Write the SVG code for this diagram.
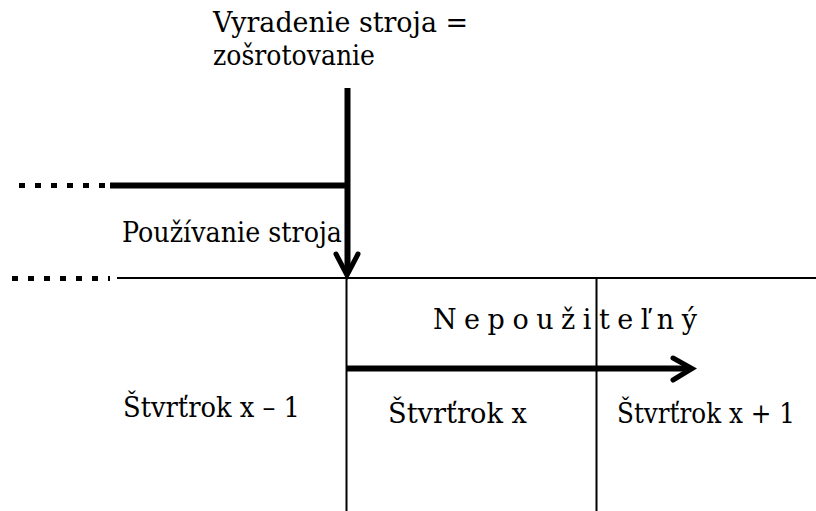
<svg xmlns="http://www.w3.org/2000/svg" width="816" height="511" viewBox="0 0 816 511">
<style>
  .t { font-family: 'DejaVu Serif', serif; font-size: 27px; fill: #000; }
  .thick { stroke: #000; stroke-width: 6; fill: none; }
  .thin { stroke: #000; stroke-width: 2; fill: none; }
  .dots { stroke: #000; stroke-width: 5; stroke-dasharray: 6 10; fill: none; }
  .head { stroke: #000; stroke-width: 5; fill: none; stroke-linecap: round; stroke-linejoin: miter; }
</style>
<rect width="816" height="511" fill="#fff"/>
<g id="connectors">
  <line class="dots" x1="19" y1="185.5" x2="106" y2="185.5"/>
  <line class="thick" x1="110" y1="185.5" x2="350" y2="185.5"/>
  <line class="dots" x1="12" y1="278.5" x2="110" y2="278.5"/>
  <line class="thin" x1="117" y1="278" x2="816" y2="278"/>
  <line class="thin" x1="346.5" y1="278" x2="346.5" y2="511"/>
  <line class="thin" x1="596.5" y1="278" x2="596.5" y2="511"/>
  <line class="thick" x1="347.5" y1="88" x2="347.5" y2="273"/>
  <polyline class="head" points="336,254 347,275 358,254"/>
  <line class="thick" x1="347" y1="368.5" x2="690" y2="368.5"/>
  <polyline class="head" points="673,358 692,368.5 673,380"/>
</g>
<g id="label-vyradenie">
  <text class="t" x="213" y="32" textLength="255" lengthAdjust="spacingAndGlyphs">Vyradenie stroja =</text>
  <text class="t" x="213" y="65" textLength="162" lengthAdjust="spacingAndGlyphs">zošrotovanie</text>
</g>
<g id="label-pouzivanie">
  <text class="t" x="122" y="242" textLength="220" lengthAdjust="spacingAndGlyphs">Používanie stroja</text>
</g>
<g id="label-nepouzitelny">
  <text class="t" x="433" y="329" textLength="264" lengthAdjust="spacing">Nepoužiteľný</text>
</g>
<g id="q-prev">
  <text class="t" x="123" y="417" textLength="177" lengthAdjust="spacingAndGlyphs">Štvrťrok x – 1</text>
</g>
<g id="q-cur">
  <text class="t" x="388" y="423" textLength="139" lengthAdjust="spacingAndGlyphs">Štvrťrok  x</text>
</g>
<g id="q-next">
  <text class="t" x="617" y="423" textLength="178" lengthAdjust="spacingAndGlyphs">Štvrťrok x + 1</text>
</g>
</svg>
